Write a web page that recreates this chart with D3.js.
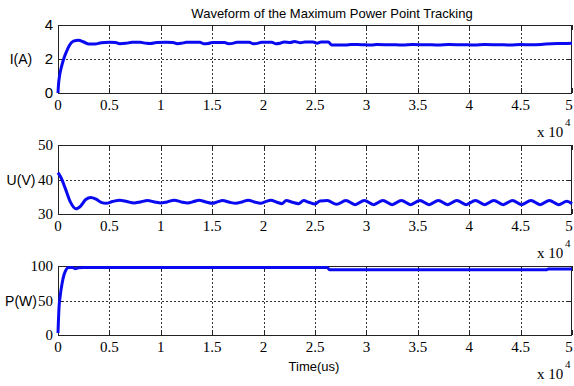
<!DOCTYPE html>
<html>
<head>
<meta charset="utf-8">
<script src="https://cdn.jsdelivr.net/npm/d3@7"></script>
<style>
  body { margin: 0; background: #fff; }
  svg { display: block; }
</style>
</head>
<body>
<div id="my_dataviz"></div>
<script>
// time axis (x 10^4 us)
var timeTicks = [0, 0.5, 1, 1.5, 2, 2.5, 3, 3.5, 4, 4.5, 5];

// current I(A) : [time, value]
var currentData = [
  [0, 0], [0.005, 0.5], [0.015, 1.0], [0.03, 1.45], [0.05, 1.9], [0.08, 2.4], [0.11, 2.8],
  [0.15, 3.05], [0.2, 3.1], [0.25, 3.0], [0.3, 2.88], [0.36, 2.88], [0.42, 2.95], [0.5, 2.98],
  [0.56, 2.97], [0.6, 2.9], [0.66, 2.92], [0.72, 2.98], [0.8, 2.98], [0.86, 2.92], [0.9, 2.91],
  [0.96, 2.97], [1.05, 2.98], [1.12, 2.97], [1.16, 2.9], [1.2, 2.92], [1.25, 2.98], [1.38, 2.98],
  [1.42, 2.9], [1.46, 2.91], [1.5, 2.97], [1.62, 2.97], [1.66, 2.9], [1.7, 2.92], [1.74, 2.98],
  [1.86, 2.98], [1.9, 2.9], [1.94, 2.92], [1.98, 2.98], [2.08, 2.98], [2.12, 2.9], [2.16, 2.93],
  [2.2, 3.0], [2.26, 2.97], [2.3, 3.03], [2.36, 2.96], [2.4, 3.0], [2.48, 3.0], [2.52, 2.93],
  [2.56, 3.0], [2.63, 3.0], [2.66, 2.83], [2.8, 2.82], [2.85, 2.86], [2.95, 2.84], [3.05, 2.82],
  [3.1, 2.86], [3.25, 2.84], [3.35, 2.82], [3.45, 2.86], [3.6, 2.84], [3.7, 2.82], [3.8, 2.86],
  [3.95, 2.84], [4.05, 2.82], [4.15, 2.86], [4.3, 2.84], [4.4, 2.82], [4.5, 2.85], [4.6, 2.84],
  [4.7, 2.86], [4.8, 2.9], [4.9, 2.91], [5.0, 2.92]
];
var currentTicks = [0, 2, 4];

// voltage U(V)
var voltageData = [
  [0, 42], [0.03, 40.5], [0.07, 37.5], [0.12, 33.5], [0.175, 31.5], [0.22, 32.3], [0.27, 34.2],
  [0.32, 34.8], [0.37, 34.3], [0.42, 33.4], [0.47, 33.1], [0.53, 33.6], [0.6, 34.0], [0.67, 33.6],
  [0.74, 33.2], [0.8, 33.5], [0.87, 33.9], [0.94, 33.5], [1.0, 33.2], [1.06, 33.5], [1.13, 34.0],
  [1.2, 33.5], [1.26, 33.2], [1.32, 33.6], [1.37, 34.0], [1.44, 33.5], [1.5, 33.1], [1.55, 33.5],
  [1.6, 33.9], [1.67, 33.4], [1.73, 33.1], [1.79, 33.5], [1.85, 34.0], [1.91, 33.5], [1.97, 33.1],
  [2.02, 33.6], [2.07, 34.0], [2.13, 33.4], [2.18, 33.0], [2.22, 33.9], [2.28, 33.4], [2.34, 33.0],
  [2.39, 33.9], [2.44, 33.4], [2.5, 32.9], [2.55, 33.8], [2.62, 33.9], [2.71, 32.8], [2.8, 33.9],
  [2.89, 32.7], [2.98, 33.9], [3.07, 32.7], [3.16, 33.9], [3.25, 32.7], [3.34, 33.9], [3.43, 32.7],
  [3.52, 33.9], [3.61, 32.7], [3.7, 33.9], [3.79, 32.7], [3.88, 33.9], [3.97, 32.7], [4.06, 33.9],
  [4.15, 32.7], [4.24, 33.9], [4.33, 32.7], [4.42, 33.9], [4.51, 32.7], [4.6, 33.9], [4.69, 32.7],
  [4.78, 33.9], [4.87, 32.7], [4.95, 33.7], [5.0, 33.0]
];
var voltageTicks = [30, 40, 50];

// power P(W)
var powerData = [
  [0, 3], [0.01, 40], [0.02, 55], [0.04, 75], [0.06, 88], [0.08, 95], [0.1, 98], [0.14, 98],
  [0.17, 96], [0.2, 97.5], [0.25, 98], [2.62, 98], [2.64, 94.5], [4.75, 94.5], [4.77, 95.5],
  [5.0, 95.5]
];
var powerTicks = [0, 50, 100];

var titleText = "Waveform of the Maximum Power Point Tracking";

var svg = d3.select("#my_dataviz")
  .append("svg")
  .attr("width", 574)
  .attr("height", 386);

var left = 58, right = 572;

var x = d3.scaleLinear()
  .domain([0, 5])
  .range([left, right]);

function drawPanel(data, ticks, top, bottom, label, tickFont){
  var y = d3.scaleLinear()
    .domain([ticks[0], ticks[ticks.length - 1]])
    .range([bottom, top]);

  var g = svg.append("g");

  // dotted grid
  g.selectAll(".vgrid")
    .data(timeTicks.slice(1, -1))
    .enter().append("line")
    .attr("x1", function(d){ return Math.round(x(d)) + 0.5; })
    .attr("x2", function(d){ return Math.round(x(d)) + 0.5; })
    .attr("y1", top).attr("y2", bottom)
    .attr("stroke", "#333").attr("stroke-width", 1)
    .attr("stroke-dasharray", "2,2");
  g.selectAll(".hgrid")
    .data(ticks.slice(1, -1))
    .enter().append("line")
    .attr("x1", left).attr("x2", right)
    .attr("y1", function(d){ return Math.round(y(d)) + 0.5; })
    .attr("y2", function(d){ return Math.round(y(d)) + 0.5; })
    .attr("stroke", "#333").attr("stroke-width", 1)
    .attr("stroke-dasharray", "2,2");

  // inner ticks (matlab style)
  g.selectAll(".xt")
    .data(timeTicks)
    .enter().append("path")
    .attr("d", function(d){
      var px = Math.round(x(d)) + 0.5;
      return "M" + px + "," + bottom + "v-5M" + px + "," + top + "v5";
    })
    .attr("stroke", "#222");
  g.selectAll(".yt")
    .data(ticks)
    .enter().append("path")
    .attr("d", function(d){
      var py = Math.round(y(d)) + 0.5;
      return "M" + left + "," + py + "h5M" + right + "," + py + "h-5";
    })
    .attr("stroke", "#222");

  // frame
  g.append("rect")
    .attr("x", left + 0.5).attr("y", top + 0.5)
    .attr("width", right - left - 1).attr("height", bottom - top)
    .attr("fill", "none").attr("stroke", "#222").attr("stroke-width", 1);

  // tick labels (last one pulled in so it stays on the page)
  g.selectAll(".xl")
    .data(timeTicks)
    .enter().append("text")
    .attr("x", function(d){ return Math.min(x(d), 569); })
    .attr("y", bottom + 17)
    .attr("text-anchor", "middle")
    .style("font-family", "'Liberation Serif', 'Times New Roman', serif")
    .style("font-size", "15px")
    .text(function(d){ return d; });
  g.selectAll(".yl")
    .data(ticks)
    .enter().append("text")
    .attr("x", left - 5)
    .attr("y", function(d){ return y(d) + 5; })
    .attr("text-anchor", "end")
    .style("font-family", tickFont)
    .style("font-size", "15px")
    .text(function(d){ return d; });

  // axis label
  g.append("text")
    .attr("x", 21).attr("y", (top + bottom) / 2 + 5)
    .attr("text-anchor", "middle")
    .style("font-family", "'Liberation Sans', Arial, sans-serif")
    .style("font-size", "14px")
    .text(label);

  // x 10^4
  g.append("text")
    .attr("x", 537).attr("y", bottom + 44)
    .style("font-family", "'Liberation Serif', 'Times New Roman', serif")
    .style("font-size", "15px")
    .text("x 10");
  g.append("text")
    .attr("x", 565).attr("y", bottom + 33)
    .style("font-family", "'Liberation Serif', 'Times New Roman', serif")
    .style("font-size", "11px")
    .text("4");

  // waveform
  var line = d3.line()
    .x(function(d){ return x(d[0]); })
    .y(function(d){ return y(d[1]); })
    .curve(d3.curveMonotoneX);
  g.append("path")
    .datum(data)
    .attr("d", line)
    .attr("fill", "none")
    .attr("stroke", "#0a0af0")
    .attr("stroke-width", 3)
    .attr("stroke-linejoin", "round");
}

drawPanel(currentData, currentTicks, 25, 93, "I(A)", "'Liberation Sans', Arial, sans-serif");
drawPanel(voltageData, voltageTicks, 145, 214, "U(V)", "'Liberation Serif', 'Times New Roman', serif");
drawPanel(powerData, powerTicks, 266, 335, "P(W)", "'Liberation Serif', 'Times New Roman', serif");

// title and time label
svg.append("text")
  .attr("x", 332).attr("y", 18)
  .attr("text-anchor", "middle")
  .style("font-family", "'Liberation Sans', Arial, sans-serif")
  .style("font-size", "13px")
  .text(titleText);
svg.append("text")
  .attr("x", 314).attr("y", 371)
  .attr("text-anchor", "middle")
  .style("font-family", "'Liberation Sans', Arial, sans-serif")
  .style("font-size", "13px")
  .text("Time(us)");
</script>
</body>
</html>
